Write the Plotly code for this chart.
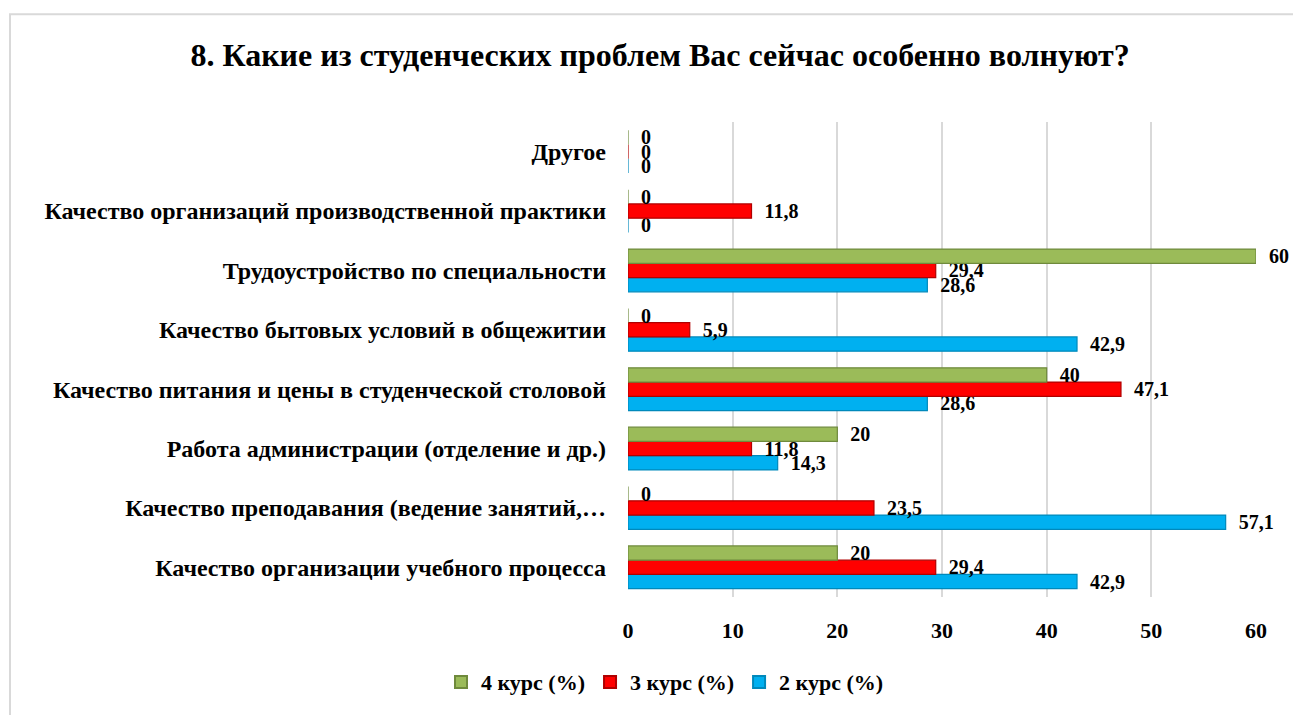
import plotly.graph_objects as go

categories = [
    "Качество организации учебного процесса",
    "Качество преподавания (ведение занятий,…",
    "Работа администрации (отделение и др.)",
    "Качество питания и цены в студенческой столовой",
    "Качество бытовых условий в общежитии",
    "Трудоустройство по специальности",
    "Качество организаций производственной практики",
    "Другое",
]
kurs4 = [20, 0, 20, 40, 0, 60, 0, 0]
kurs3 = [29.4, 23.5, 11.8, 47.1, 5.9, 29.4, 11.8, 0]
kurs2 = [42.9, 57.1, 14.3, 28.6, 42.9, 28.6, 0, 0]
x_ticks = [0, 10, 20, 30, 40, 50, 60]

series = [
    ("2 курс (%)", kurs2, "#00B0F0", "#0089BB"),
    ("3 курс (%)", kurs3, "#FF0000", "#B00000"),
    ("4 курс (%)", kurs4, "#9BBB59", "#6F8A3C"),
]

def fmt(v):
    s = ("%.1f" % v).rstrip("0").rstrip(".")
    return "\u2002" + s.replace(".", ",")

# page has an 8px body margin; figure coordinates are page coordinates minus 8
W, H = 1293, 707
L, R, T, B = 620, 45, 114, 113
pw = W - L - R
ph = H - T - B
FONT = "Liberation Serif"

fig = go.Figure()
for name, vals, col, edge in series:
    fig.add_trace(go.Bar(
        y=categories, x=vals, name=name, orientation="h",
        marker=dict(color=col, line=dict(color=edge, width=1.2)),
        text=[fmt(v) for v in vals], textposition="outside",
        constraintext="none",
        textfont=dict(family=FONT, size=20, color="#000000", weight="bold"),
        cliponaxis=False,
    ))

fig.update_layout(
    width=W, height=H,
    barmode="group", bargap=0.28, bargroupgap=0,
    margin=dict(l=L, r=R, t=T, b=B, pad=0),
    paper_bgcolor="white", plot_bgcolor="white",
    separators=", ",
    title=dict(text="<b>8. Какие из студенческих проблем Вас сейчас особенно волнуют?</b>",
               x=(660 - 8) / W, xref="container", xanchor="center", y=1 - 47 / H, yanchor="middle",
               font=dict(family=FONT, size=32, color="#000000")),
    font=dict(family=FONT, color="#000000"),
    legend=dict(orientation="h", traceorder="reversed", x=(657 - L) / pw, xanchor="center",
                y=-(680 - (T + ph)) / ph, yanchor="middle",
                font=dict(family=FONT, size=22, weight="bold"),
                itemwidth=30, itemsizing="constant"),
    xaxis=dict(range=[0, 60], tickvals=x_ticks, showgrid=True, gridcolor="#D9D9D9", gridwidth=2,
               zeroline=False, showline=False, ticks="",
               tickfont=dict(family=FONT, size=22, weight="bold"),
               ticklabelstandoff=18),
    yaxis=dict(showgrid=False, zeroline=False, showline=False, ticks="",
               tickfont=dict(family=FONT, size=24, weight="bold"),
               ticklabelstandoff=21),
    showlegend=True,
)

fig.add_shape(type="rect", xref="paper", yref="paper",
              x0=(2 - L) / pw, x1=(1310 - L) / pw,
              y0=-(725 - T - ph) / ph, y1=1 + (T - 5) / ph,
              line=dict(color="#D9D9D9", width=2), fillcolor="rgba(0,0,0,0)", layer="below")

fig.write_html("out.html")
